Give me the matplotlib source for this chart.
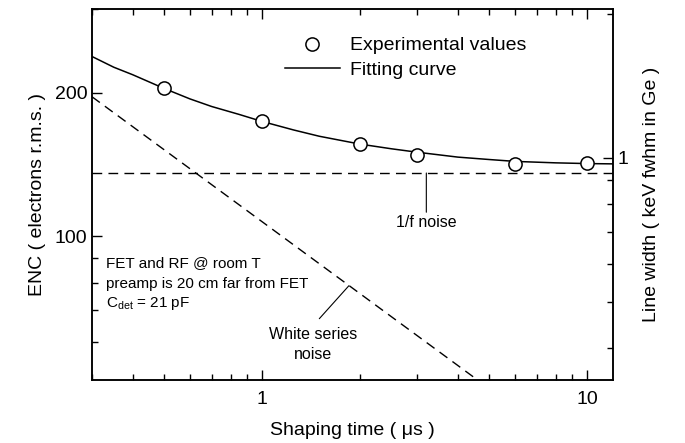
import numpy as np
import matplotlib
matplotlib.use('Agg')
import matplotlib.pyplot as plt
from matplotlib.ticker import FixedLocator, NullFormatter, FixedFormatter

plt.rcParams['font.family'] = ['Liberation Sans', 'DejaVu Sans']
plt.rcParams['mathtext.fontset'] = 'custom'
plt.rcParams['mathtext.rm'] = 'Liberation Sans'
plt.rcParams['mathtext.it'] = 'Liberation Sans:italic'

# experimental points (shaping time in us, ENC in electrons rms)
tau_exp = [0.5, 1, 2, 3, 6, 10]
enc_exp = [204, 174, 156, 148, 142, 142.5]

# fitting curve
tau_fit = [0.3, 0.35, 0.4, 0.5, 0.6, 0.7, 0.85, 1, 1.25, 1.5, 2, 2.5, 3, 4, 5, 6, 8, 10, 12]
enc_fit = [238, 226, 218, 204, 194, 187, 180, 174, 167, 162, 156, 152.5, 150,
           146.5, 144.8, 143.5, 142.5, 142, 141.8]

# noise components
tau_white = [0.3, 4.6]
enc_white = [196, 50]
tau_flick = [0.3, 12]
enc_flick = [135.7, 135.7]

kev_per_enc = 1 / 146.0   # ENC -> keV fwhm in Ge
ylo, yhi = 50, 300

fig = plt.figure(figsize=(6.85, 4.43), dpi=100)
ax = fig.add_axes([92/685, 1-380/443, 521/685, 371.5/443])

ax.plot(tau_fit, enc_fit, color='black', lw=1.1, label='Fitting curve')
ax.plot(tau_exp, enc_exp, 'o', ms=9.5, mfc='white', mec='black', mew=1.1,
        ls='none', label='Experimental values', zorder=5)
ax.plot(tau_white, enc_white, color='black', lw=1.0, dashes=(7, 4.5))
ax.plot(tau_flick, enc_flick, color='black', lw=1.0, dashes=(7, 4.5))

ax.set_xscale('log')
ax.set_yscale('log')
ax.set_xlim(0.3, 12)
ax.set_ylim(ylo, yhi)

ax.xaxis.set_major_locator(FixedLocator([1, 10]))
ax.xaxis.set_major_formatter(FixedFormatter(['1', '10']))
ax.xaxis.set_minor_locator(FixedLocator([0.3, 0.4, 0.5, 0.6, 0.7, 0.8, 0.9,
                                         2, 3, 4, 5, 6, 7, 8, 9]))
ax.xaxis.set_minor_formatter(NullFormatter())
ax.yaxis.set_major_locator(FixedLocator([100, 200]))
ax.yaxis.set_major_formatter(FixedFormatter(['100', '200']))
ax.yaxis.set_minor_locator(FixedLocator([60, 70, 80, 90, 300]))
ax.yaxis.set_minor_formatter(NullFormatter())

ax.tick_params(which='both', direction='in', top=True, right=False,
               labelsize=14, width=1)
ax.tick_params(which='major', length=7)
ax.tick_params(which='minor', length=4)
ax.tick_params(axis='x', pad=8)

ax.set_xlabel('Shaping time ( μs )', fontsize=14, labelpad=10)
ax.set_ylabel('ENC ( electrons r.m.s. )', fontsize=14, labelpad=6)

ax2 = ax.twinx()
ax2.set_yscale('log')
ax2.set_ylim(ylo * kev_per_enc, yhi * kev_per_enc)
ax2.yaxis.set_major_locator(FixedLocator([1]))
ax2.yaxis.set_major_formatter(FixedFormatter(['1']))
ax2.yaxis.set_minor_locator(FixedLocator([0.4, 0.5, 0.6, 0.7, 0.8, 0.9, 2]))
ax2.yaxis.set_minor_formatter(NullFormatter())
ax2.tick_params(which='both', direction='in', labelsize=14, width=1)
ax2.tick_params(which='major', length=7)
ax2.tick_params(which='minor', length=4)
ax2.set_ylabel('Line width ( keV fwhm in Ge )', fontsize=14, labelpad=10)

for a in (ax, ax2):
    for s in a.spines.values():
        s.set_linewidth(1.1)

h, l = ax.get_legend_handles_labels()
ax.legend([h[1], h[0]], [l[1], l[0]], loc='upper left',
          bbox_to_anchor=(0.37, 0.924), frameon=False, fontsize=14,
          handlelength=2.85, handletextpad=0.5, labelspacing=0.35,
          borderpad=0, borderaxespad=0)

ax.text(0.332, 87.7, 'FET and RF @ room T', fontsize=11, va='center')
ax.text(0.332, 79.6, 'preamp is 20 cm far from FET', fontsize=11, va='center')
ax.text(0.332, 72.3, 'C$_{\\rm det}$ = 21 pF', fontsize=11, va='center')

ax.annotate('', xy=(1.85, 78.8), xytext=(1.5, 67.2),
            arrowprops=dict(arrowstyle='-', lw=0.8, shrinkA=0, shrinkB=0))
ax.text(1.434, 59.4, 'White series\nnoise', fontsize=11.5, ha='center',
        va='center', linespacing=1.4)

ax.annotate('', xy=(3.2, 135.7), xytext=(3.2, 112.3),
            arrowprops=dict(arrowstyle='-', lw=0.8, shrinkA=0, shrinkB=0))
ax.text(3.2, 107, '1/f noise', fontsize=11.5, ha='center', va='center')

fig.savefig('out.png', dpi=100)
